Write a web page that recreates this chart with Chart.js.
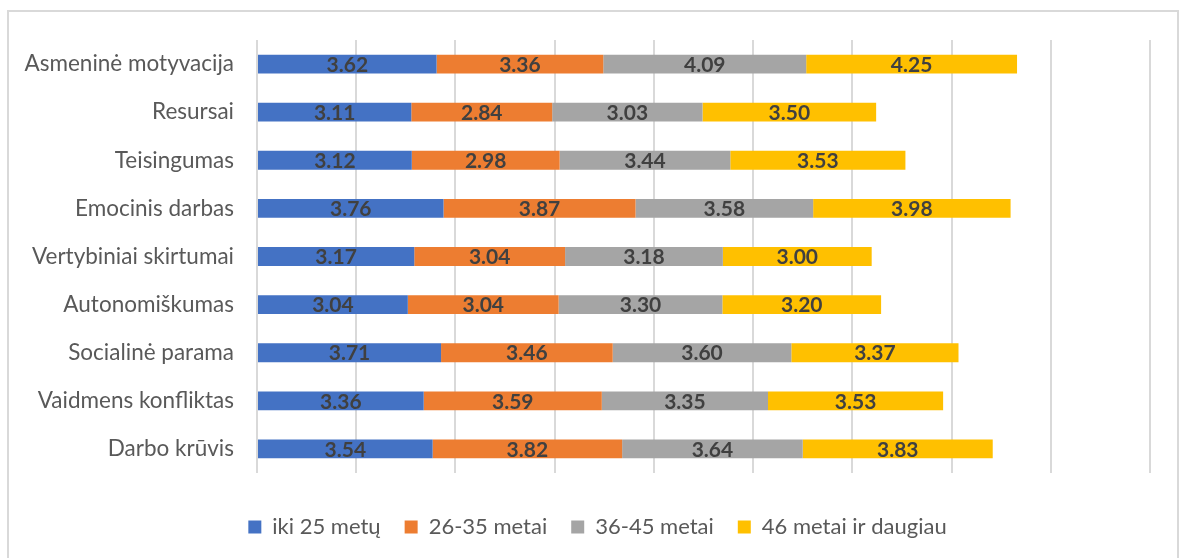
<!DOCTYPE html>
<html>
<head>
<meta charset="utf-8">
<script src="https://cdn.jsdelivr.net/npm/chart.js@4/dist/chart.umd.min.js"></script>
<style>
  html, body { margin: 0; padding: 0; background: #fff; }
  #wrap { position: relative; width: 1179px; height: 558px; overflow: hidden; }
  #frame { position: absolute; left: 7px; top: 10px; width: 1172px; height: 600px;
           border: 2px solid #d9d9d9; box-sizing: border-box; }
  #chart { position: absolute; left: 0; top: 0; }
</style>
</head>
<body>
<div id="wrap">
  <div id="frame"></div>
  <canvas id="chart" width="1179" height="558"></canvas>
</div>
<script>
// Categories (top to bottom)
const categories = [
  'Asmeninė motyvacija',
  'Resursai',
  'Teisingumas',
  'Emocinis darbas',
  'Vertybiniai skirtumai',
  'Autonomiškumas',
  'Socialinė parama',
  'Vaidmens konfliktas',
  'Darbo krūvis'
];

// Mean scores by age group
const age25 = [3.62, 3.11, 3.12, 3.76, 3.17, 3.04, 3.71, 3.36, 3.54];
const age26to35 = [3.36, 2.84, 2.98, 3.87, 3.04, 3.04, 3.46, 3.59, 3.82];
const age36to45 = [4.09, 3.03, 3.44, 3.58, 3.18, 3.30, 3.60, 3.35, 3.64];
const age46plus = [4.25, 3.50, 3.53, 3.98, 3.00, 3.20, 3.37, 3.53, 3.83];

const seriesNames = ['iki 25 metų', '26-35 metai', '36-45 metai', '46 metai ir daugiau'];
const seriesColors = ['#4472C4', '#ED7D31', '#A5A5A5', '#FFC000'];
const seriesData = [age25, age26to35, age36to45, age46plus];

const FONT = 'Lato, "Open Sans", sans-serif';

// Writes each segment's value in its middle
const segmentLabels = {
  id: 'segmentLabels',
  afterDatasetsDraw(chart) {
    const ctx = chart.ctx;
    ctx.save();
    ctx.font = 'bold 21px ' + FONT;
    ctx.fillStyle = '#404040';
    ctx.textAlign = 'center';
    ctx.textBaseline = 'middle';
    chart.data.datasets.forEach((ds, di) => {
      const meta = chart.getDatasetMeta(di);
      if (meta.hidden) return;
      meta.data.forEach((bar, i) => {
        const cx = (bar.x + bar.base) / 2;
        ctx.fillText(ds.data[i].toFixed(2), cx, bar.y + 1);
      });
    });
    ctx.restore();
  }
};

new Chart(document.getElementById('chart'), {
  type: 'bar',
  data: {
    labels: categories,
    datasets: seriesData.map((d, i) => ({
      label: seriesNames[i],
      data: d,
      backgroundColor: seriesColors[i],
      borderWidth: 0,
      categoryPercentage: 0.8,
      barPercentage: 0.49
    }))
  },
  options: {
    indexAxis: 'y',
    responsive: false,
    animation: false,
    layout: { padding: { top: 40, right: 0, left: 16, bottom: 10 } },
    scales: {
      x: {
        stacked: true,
        min: 0,
        max: 18,
        ticks: { display: false, stepSize: 2 },
        grid: { color: '#d9d9d9', lineWidth: 2, drawTicks: false },
        border: { display: false },
        afterFit(scale) { scale.height = 19; }
      },
      y: {
        stacked: true,
        grid: { display: false },
        border: { display: false },
        ticks: { color: '#595959', font: { family: FONT, size: 22.5 }, padding: 15 },
        afterFit(scale) { scale.width = 241; }
      },
      // empty right-hand margin beside the plot
      yRight: {
        type: 'category',
        position: 'right',
        grid: { display: false },
        border: { display: false },
        ticks: { display: false },
        afterFit(scale) { scale.width = 29; }
      }
    },
    plugins: {
      legend: {
        position: 'bottom',
        labels: {
          boxWidth: 13,
          boxHeight: 13,
          padding: 24,
          color: '#595959',
          font: { family: FONT, size: 22 }
        }
      },
      tooltip: { enabled: false }
    }
  },
  plugins: [segmentLabels]
});
</script>
</body>
</html>
